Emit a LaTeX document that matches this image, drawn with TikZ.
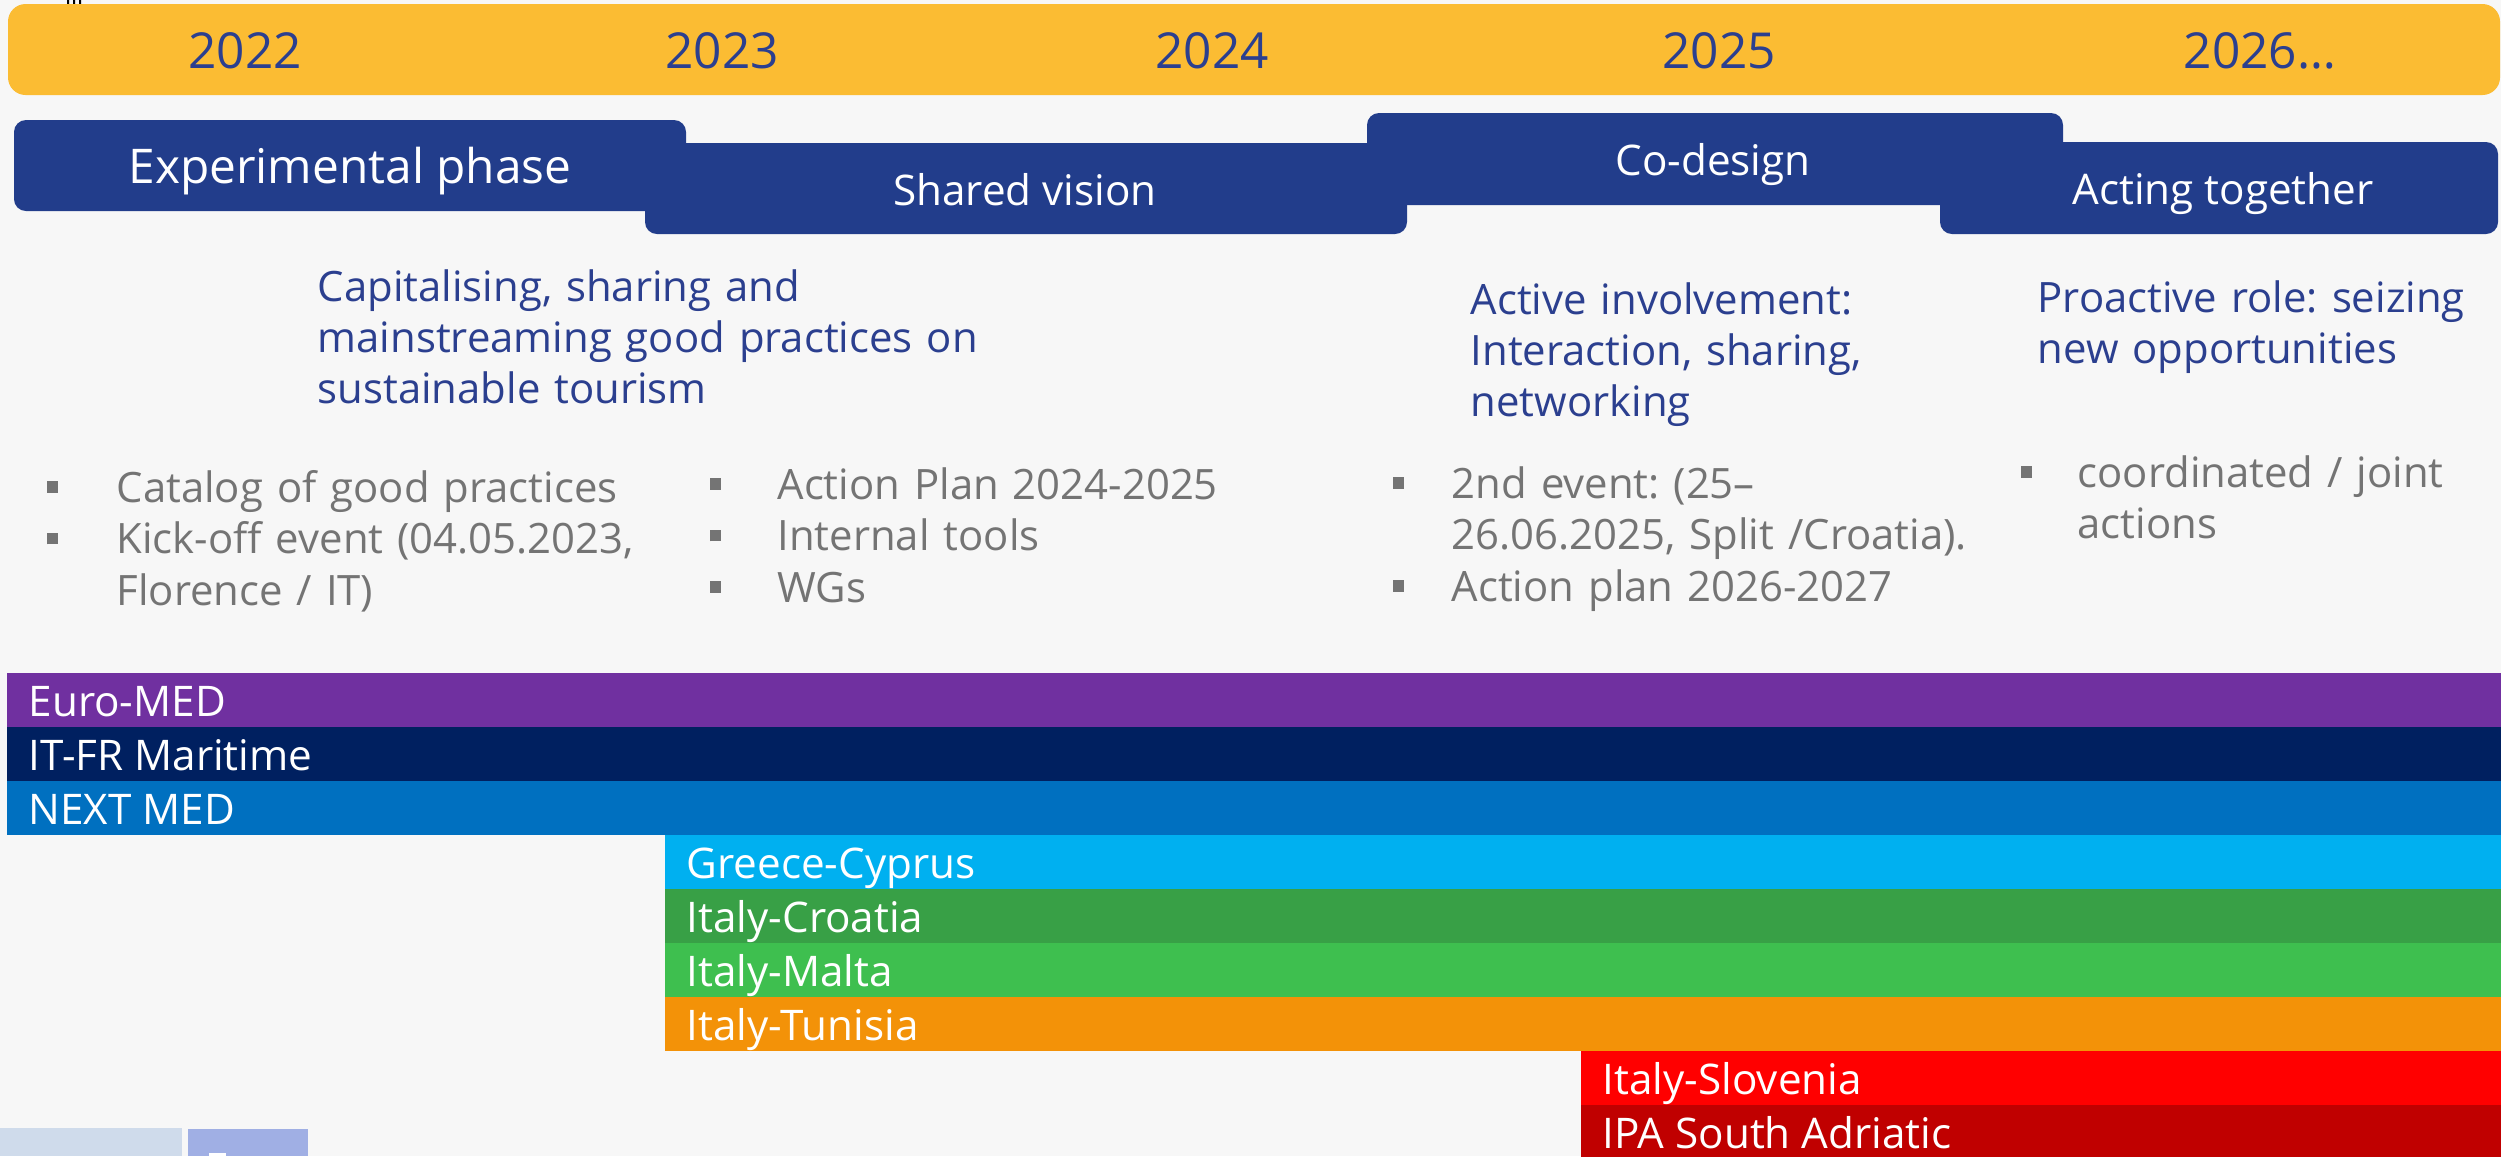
\documentclass[tikz,border=0pt]{standalone}
\usepackage{fontspec}
\setmainfont{Open Sans}
\frenchspacing

\definecolor{bgGray}{HTML}{F7F7F7}
\definecolor{yearYellow}{HTML}{FBBC33}
\definecolor{phaseBlue}{HTML}{223D8B}
\definecolor{headBlue}{HTML}{2B3F8F}
\definecolor{itemGray}{HTML}{747474}
\definecolor{euromed}{HTML}{7030A0}
\definecolor{itfr}{HTML}{002060}
\definecolor{nextmed}{HTML}{0070C0}
\definecolor{grcy}{HTML}{00B0F0}
\definecolor{ithr}{HTML}{38A046}
\definecolor{itmt}{HTML}{3EBF4F}
\definecolor{ittn}{HTML}{F39208}
\definecolor{itsi}{HTML}{FF0000}
\definecolor{ipasa}{HTML}{C00000}
\definecolor{tabLight}{HTML}{CFDBEB}
\definecolor{tabMid}{HTML}{A0AFE4}

% square bullet with hanging indent
\newlength\itemhang
\newcommand\sqitem[1]{\noindent\hangindent=\itemhang\hangafter=1%
  \makebox[\itemhang][l]{\rule[2.6pt]{3.3pt}{3.3pt}}#1\par}

\tikzset{
  yearlabel/.style={anchor=base, inner sep=0pt, text=headBlue,
    font=\fontsize{14.1}{17}\selectfont},
  phasebox/.style={fill=phaseBlue, rounded corners=3.4pt},
  phaselabel/.style={anchor=base, inner sep=0pt, text=white,
    font=\fontsize{12}{15}\selectfont},
  goaltext/.style={anchor=base west, inner sep=0pt, align=left,
    text width=#1, text=headBlue, font=\fontsize{11.9}{14.5}\selectfont},
  itemtext/.style={anchor=base west, inner sep=0pt, align=left,
    text width=#1, text=itemGray, font=\fontsize{11.9}{14.65}\selectfont},
  bandlabel/.style={anchor=base west, inner sep=0pt, text=white,
    font=\fontsize{12}{14}\selectfont},
}

\begin{document}
\begin{tikzpicture}[x=0.01cm,y=-0.01cm]
  \useasboundingbox (0,0) rectangle (2501,1156);
  \fill [bgGray] (0,0) rectangle (2501,1156);
  % cut-off mark at the top edge
  \fill [black] (67,0) rectangle (69,5) (73,0) rectangle (75,5) (79,0) rectangle (81,5);

  % years
  \fill [yearYellow, rounded corners=5pt] (8,4) rectangle (2500,95);
  \foreach \x/\yr [count=\i] in {245/2022, 722/2023, 1212/2024, 1719/2025, 2260/2026…}
    \node [yearlabel] (year\i) at (\x,68) {\yr};

  % phases
  \fill [phasebox] (645,143) rectangle (1407,234);
  \fill [phasebox] (14,120) rectangle (686,211);
  \fill [phasebox] (1940,142) rectangle (2498,234);
  \fill [phasebox] (1367,113) rectangle (2063,205);
  \node [phaselabel, font=\fontsize{13.6}{17}\selectfont] (exper) at (350,183) {Experimental phase};
  \node [phaselabel] (vision) at (1025,205) {Shared vision};
  \node [phaselabel] (codes) at (1713,175) {Co-design};
  \node [phaselabel] (acting) at (2223,204) {Acting together};

  % goals
  \node [goaltext=7.5cm] (goalA) at (317,301)
    {Capitalising, sharing and\\ mainstreaming good practices on\\ sustainable tourism};
  \node [goaltext=5cm] (goalB) at (1470,314)
    {Active involvement:\\ Interaction, sharing,\\ networking};
  \node [goaltext=4.6cm] (goalC) at (2037,312)
    {Proactive role: seizing\\ new opportunities};

  % outputs
  \node [itemtext=6.2cm] (listA) at (46,502) {\setlength\itemhang{19.9pt}%
    \sqitem{Catalog of good practices}%
    \sqitem{Kick-off event (04.05.2023,\newline Florence / IT)}};
  \node [itemtext=5.8cm] (listB) at (709,499) {\setlength\itemhang{19.3pt}%
    \sqitem{Action Plan 2024-2025}%
    \sqitem{Internal tools}%
    \sqitem{WGs}};
  \node [itemtext=6cm] (listC) at (1392,498) {\setlength\itemhang{16.8pt}%
    \sqitem{2nd event: (25–\newline 26.06.2025, Split /Croatia).}%
    \sqitem{Action plan 2026-2027}};
  \node [itemtext=4.6cm] (listD) at (2020,487) {\setlength\itemhang{16.2pt}%
    \sqitem{coordinated / joint\newline actions}};

  % programmes
  \foreach \row/\xs/\col/\name in {0/7/euromed/Euro-MED, 1/7/itfr/IT-FR Maritime,
      2/7/nextmed/NEXT MED, 3/665/grcy/Greece-Cyprus, 4/665/ithr/Italy-Croatia,
      5/665/itmt/Italy-Malta, 6/665/ittn/Italy-Tunisia, 7/1581/itsi/Italy-Slovenia,
      8/1581/ipasa/IPA South Adriatic} {
    \fill [\col] (\xs,{673+\row*54}) rectangle (2501,{727+\row*54});
    \node [bandlabel] (band\row) at ({\xs+21},{716.5+\row*54}) {\name};
  }

  % tabs at the bottom edge
  \fill [tabLight] (0,1128) rectangle (182,1156);
  \fill [tabMid] (188,1129) rectangle (308,1156);
  \fill [white] (209,1153) rectangle (226,1156);
\end{tikzpicture}
\end{document}
